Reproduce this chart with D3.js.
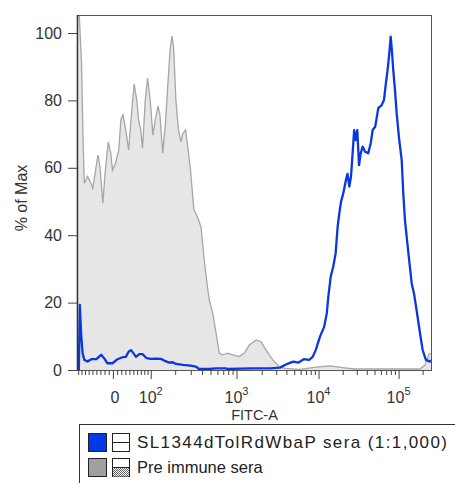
<!DOCTYPE html>
<html><head><meta charset="utf-8">
<script src="https://cdn.jsdelivr.net/npm/d3@7"></script>
<style>body{margin:0;background:#fff} svg{display:block;font-family:"Liberation Sans",Arial,sans-serif}</style>
</head><body><svg id="c" width="455" height="483"></svg>
<script>
// ---- data ----
const preFITC = [-88,-80,-75,-72,-63,-56,-49,-42,-36,-31,-24,-18,-11,-5,-1,6,14,19,24,31,38,44,52,59,64,70,75,83,90,98,107,115,125,132,143,154,164,175,184,192,204,218,233,244,262,277,298,325,356,390,433,467,485,530,578,630,690,789,903,1079,1239,1420,1716,1963,2261,2725,3275,3775,5900,9900,13900,20000,28500,185000,215000,240000,262144];
const prePct = [108,91,66,55.4,57.4,55.9,53.9,59.3,63.8,60.3,49.5,59.3,67.7,64.3,59.3,61.3,65.3,74.2,75.7,71.2,65.3,74.2,84.9,80.1,74.2,71.2,65.8,80.1,86.6,80.1,69.7,74.2,78.3,75.7,64.3,73.2,84.1,95,99.1,95.9,80.1,71.2,67.7,70.2,71.2,66.3,59.3,47.5,45.5,42.5,30.7,23.7,20.8,16.9,11,5,4.5,5,4.5,4,5,7.4,8.9,8.4,5.9,3,1,0.5,0.2,0.9,1.2,0.7,0.3,0.3,1.5,4.7,5];
const immuneFITC = [-88,-85,-81,-77,-72,-63,-53,-40,-28,-21,-13,-1,11,23,31,38,44,50,57,66,75,87,100,117,136,149,171,187,204,244,298,343,372,485,580,750,800,1530,2040,2520,3340,4190,4880,5650,6550,7650,8450,9220,10430,11730,12660,13240,14180,15260,16330,17290,18150,19050,20330,21940,22980,24200,25390,26600,27810,29000,30450,31990,33570,35500,37950,41740,44780,47400,51000,55700,61470,65600,69400,72850,76580,79690,82680,85800,90100,94600,101320,109400,114500,120200,126200,135700,146000,155800,168000,185500,200300,220000,247660,262144];
const immunePct = [0,19.3,10.4,5,3,2.5,3.2,3.2,4.5,3.5,2,2,3.2,3.8,3.9,5.4,5.9,5,3.9,4.7,4.7,3.5,3.3,3.4,3.3,2.8,2.2,2.3,1.8,1.5,1.3,1,0.3,0.3,0.5,0.5,0.3,0.5,0.5,0.5,0.7,1.9,2.5,2.2,3.2,3,3.9,5.9,9.9,12.8,16.8,21.8,27.7,30.7,34.6,42.5,46.5,49.9,52.4,56.4,58.2,54.4,57.4,64.3,71.2,68.2,71.2,60.8,64.3,66.3,64.8,64.3,67.3,71.2,72.2,77.7,78.6,80.1,85.1,89,94,98.9,94.5,89,83.1,76.2,68.8,62.3,52.4,44.5,39.6,32.6,25.7,22.8,17.8,10.9,5.9,3,2.5,3];
const yMajor = [0,20,40,60,80,100];
const yMinor = [5,10,15,25,30,35,45,50,55,65,70,75,85,90,95];
const xMajor = [0,100,1000,10000,100000];
const xMajorLabels = [["0",""],["10","2"],["10","3"],["10","4"],["10","5"]];
const xMinor = [-90,-80,-70,-60,-50,-40,-30,-20,-10,10,20,30,40,50,60,70,80,90,200,300,400,500,600,700,800,900,2000,3000,4000,5000,6000,7000,8000,9000,20000,30000,40000,50000,60000,70000,80000,90000,200000];
const xTitle = "FITC-A", yTitle = "% of Max";
const legendLabels = ["SL1344dTolRdWbaP sera (1:1,000)", "Pre immune sera"];

// ---- logicle (biexponential) transform ----
const TOP = 262144, M = 4.45, W = 0.45;
const mN = M*Math.LN10, wN = W*Math.LN10;
let pl = 1.000001, ph = 100;
for (let i=0;i<200;i++){ const mid=(pl+ph)/2; const f=2*mid*Math.log(mid)/(mid+1); if (f<wN) pl=mid; else ph=mid; }
const P = (pl+ph)/2, K = TOP*Math.exp(-(mN-wN));
function S(x){ if (x < wN) return -S(2*wN - x); return K*(Math.exp(x-wN) - P*P*Math.exp(-(x-wN)/P) + P*P - 1); }
function logicle(v){ let a=-mN, b=mN*1.5; for (let i=0;i<80;i++){ const mid=(a+b)/2; if (S(mid)<v) a=mid; else b=mid; } return (a+b)/2/mN; }
const X0=77, X1=432, Y0=370, Y1=15;
const xLin = d3.scaleLinear().domain([0,1]).range([X0,X1]);
function xs(v){ return xLin(logicle(v)); }
xs.range = () => xLin.range();
xs.domain = () => [S(0), TOP];
xs.copy = () => xs;
const y = d3.scaleLinear().domain([0,100]).range([370,33]);

const svg = d3.select("#c");
const defs = svg.append("defs");
defs.append("clipPath").attr("id","clip").append("rect").attr("x",X0).attr("y",Y1).attr("width",X1-X0).attr("height",Y0-Y1);
const pat = defs.append("pattern").attr("id","dots").attr("width",2).attr("height",2).attr("patternUnits","userSpaceOnUse");
pat.append("rect").attr("width",2).attr("height",2).attr("fill","#fff");
pat.append("rect").attr("width",1).attr("height",1).attr("fill","#666");
pat.append("rect").attr("x",1).attr("y",1).attr("width",1).attr("height",1).attr("fill","#666");

const pre = preFITC.map((v,i)=>[v,prePct[i]]);
const imm = immuneFITC.map((v,i)=>[v,immunePct[i]]);
const g = svg.append("g").attr("clip-path","url(#clip)");
g.append("path").datum(pre).attr("fill","#e6e6e6").attr("stroke","none")
  .attr("d", d3.area().x(d=>xs(d[0])).y0(y(0)).y1(d=>y(d[1])));
g.append("path").datum(pre).attr("fill","none").attr("stroke","#a6a6a6").attr("stroke-width",1.3)
  .attr("d", d3.line().x(d=>xs(d[0])).y(d=>y(d[1])));
g.append("path").datum(imm).attr("fill","none").attr("stroke","#0a37e0").attr("stroke-width",2.3).attr("stroke-linejoin","round")
  .attr("d", d3.line().x(d=>xs(d[0])).y(d=>y(d[1])));

// frame
svg.append("rect").attr("x",X0+0.5).attr("y",Y1+0.5).attr("width",X1-X0-1).attr("height",Y0-Y1).attr("fill","none").attr("stroke","#555");
svg.append("line").attr("x1",X0+0.5).attr("x2",X0+0.5).attr("y1",Y1).attr("y2",Y0).attr("stroke","#333").attr("stroke-width",1.6);

// y axis
const ya = svg.append("g").attr("transform",`translate(${X0},0)`);
ya.call(d3.axisLeft(y).tickValues(yMinor).tickSize(5).tickFormat(""));
ya.call(d3.axisLeft(y).tickValues(yMajor).tickSize(9).tickPadding(6));
ya.selectAll(".domain").remove();
ya.selectAll("line").attr("stroke","#444");
ya.selectAll("text").attr("font-size",16).attr("fill","#333").attr("font-family","Liberation Sans, Arial, sans-serif");

// x axis
const xa = svg.append("g").attr("transform",`translate(0,${Y0})`);
xa.append("g").call(d3.axisBottom(xs).tickValues(xMinor.filter(v=>v>=S(0))).tickSize(5).tickFormat(""));
xa.append("g").call(d3.axisBottom(xs).tickValues(xMajor).tickSize(9).tickFormat(""));
xa.selectAll(".domain").remove();
xa.selectAll("line").attr("stroke","#444");
const lab = svg.append("g").attr("font-size",16).attr("fill","#333");
xMajor.forEach((v,i)=>{
  const t = lab.append("text").attr("x", xs(v) + (i===0?2:0)).attr("y",403).attr("text-anchor","middle");
  t.append("tspan").text(xMajorLabels[i][0]);
  if (xMajorLabels[i][1]) t.append("tspan").attr("dy",-8).attr("font-size",11).text(xMajorLabels[i][1]);
});
svg.append("text").attr("x",(X0+X1)/2).attr("y",420).attr("text-anchor","middle").attr("font-size",14.5).attr("fill","#333").text(xTitle);
svg.append("text").attr("transform","translate(27,198) rotate(-90)").attr("text-anchor","middle").attr("font-size",16).attr("fill","#333").text(yTitle);

// legend
const lg = svg.append("g");
lg.append("rect").attr("x",79.5).attr("y",424.5).attr("width",400).attr("height",80).attr("fill","#fff").attr("stroke","#333");
const sw = [["#0039e6", null],["#a0a0a0","url(#dots)"]];
legendLabels.forEach((txt,i)=>{
  const yy = 433 + i*25;
  lg.append("rect").attr("x",88.5).attr("y",yy+0.5).attr("width",18).attr("height",18).attr("fill",sw[i][0]).attr("stroke","#222");
  lg.append("rect").attr("x",112.5).attr("y",yy+0.5).attr("width",17).attr("height",18).attr("fill","#fff").attr("stroke","#222");
  if (sw[i][1]) lg.append("rect").attr("x",113).attr("y",yy+10).attr("width",16).attr("height",8.5).attr("fill",sw[i][1]);
  lg.append("line").attr("x1",112.5).attr("x2",129.5).attr("y1",yy+9.5).attr("y2",yy+9.5).attr("stroke","#222");
  const t = lg.append("text").attr("x",137).attr("y",yy+15).attr("font-size",i===0?17:16.5).attr("fill","#222").text(txt);
  if (i===0) t.attr("textLength",310).attr("lengthAdjust","spacing");
});
</script></body></html>
